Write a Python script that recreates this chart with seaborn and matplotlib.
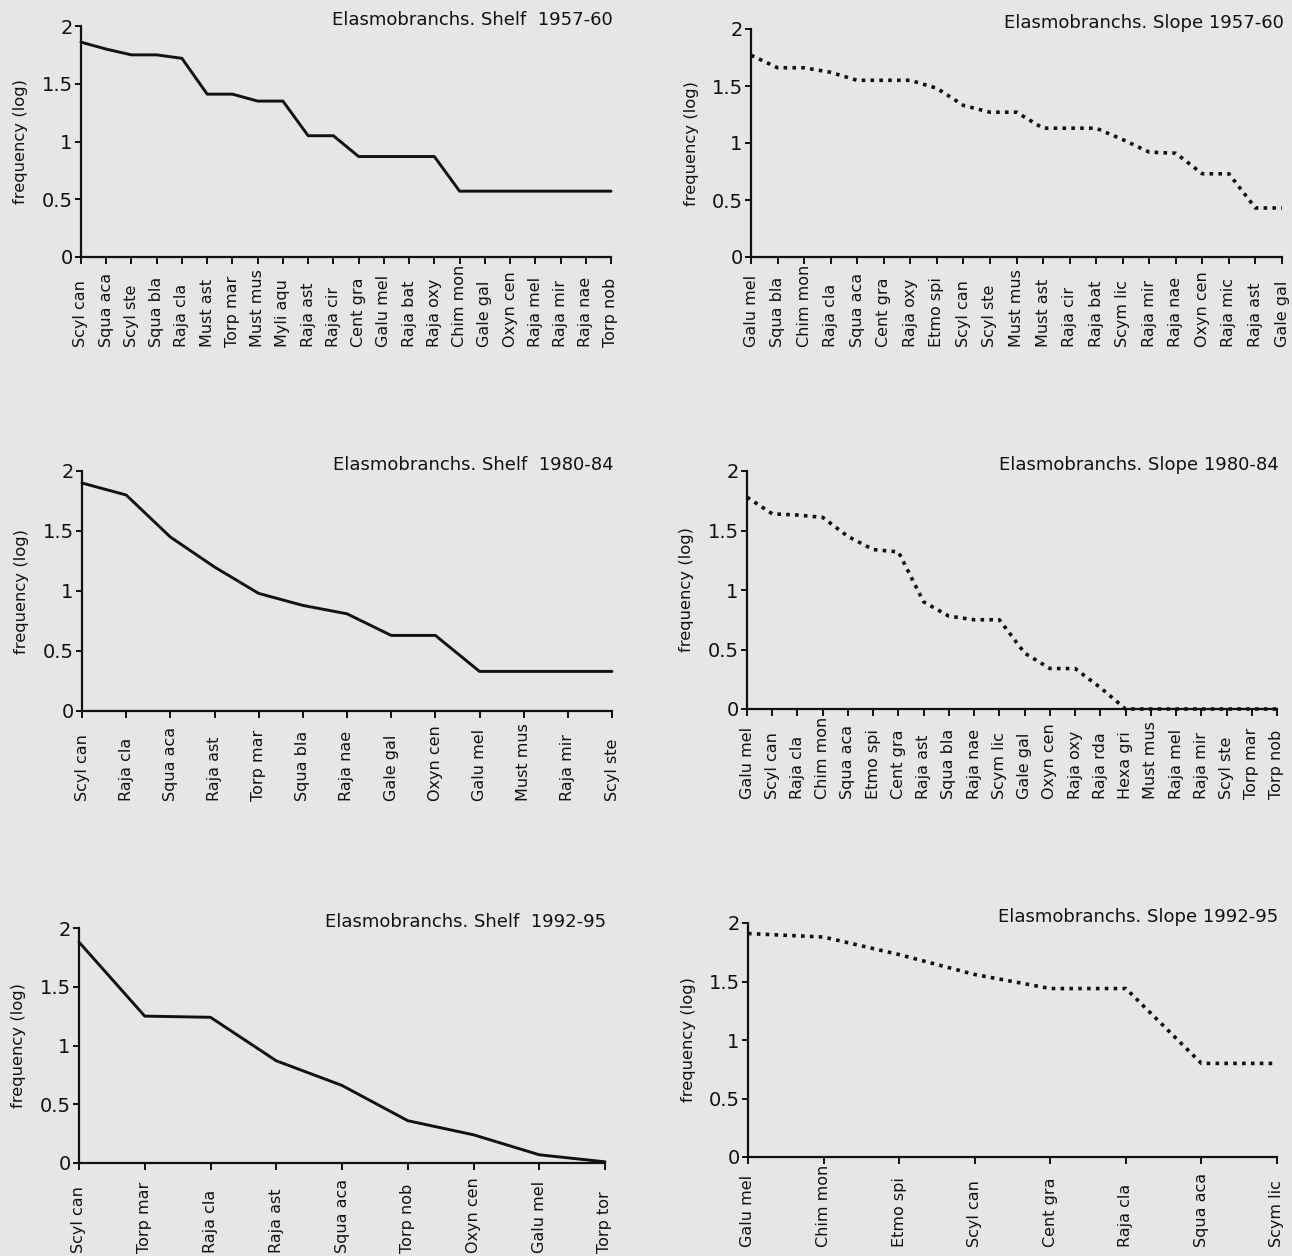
import numpy as np
import pandas as pd
import matplotlib
matplotlib.use("Agg")
import matplotlib.pyplot as plt
import seaborn as sns

sns.set_theme(style="white")
plt.rcParams['font.family'] = ['DejaVu Sans']

BG = '#e6e6e6'
INK = '#111111'

# ---------------- data ----------------
shelf_5760_species = ["Scyl can", "Squa aca", "Scyl ste", "Squa bla", "Raja cla", "Must ast",
                      "Torp mar", "Must mus", "Myli aqu", "Raja ast", "Raja cir", "Cent gra",
                      "Galu mel", "Raja bat", "Raja oxy", "Chim mon", "Gale gal", "Oxyn cen",
                      "Raja mel", "Raja mir", "Raja nae", "Torp nob"]
shelf_5760_freq = [1.86, 1.80, 1.75, 1.75, 1.72, 1.41, 1.41, 1.35, 1.35, 1.05, 1.05, 0.87,
                   0.87, 0.87, 0.87, 0.57, 0.57, 0.57, 0.57, 0.57, 0.57, 0.57]

slope_5760_species = ["Galu mel", "Squa bla", "Chim mon", "Raja cla", "Squa aca", "Cent gra",
                      "Raja oxy", "Etmo spi", "Scyl can", "Scyl ste", "Must mus", "Must ast",
                      "Raja cir", "Raja bat", "Scym lic", "Raja mir", "Raja nae", "Oxyn cen",
                      "Raja mic", "Raja ast", "Gale gal"]
slope_5760_freq = [1.77, 1.66, 1.66, 1.62, 1.55, 1.55, 1.55, 1.48, 1.33, 1.27, 1.27, 1.13,
                   1.13, 1.13, 1.03, 0.92, 0.91, 0.73, 0.73, 0.43, 0.43]

shelf_8084_species = ["Scyl can", "Raja cla", "Squa aca", "Raja ast", "Torp mar", "Squa bla",
                      "Raja nae", "Gale gal", "Oxyn cen", "Galu mel", "Must mus", "Raja mir",
                      "Scyl ste"]
shelf_8084_freq = [1.90, 1.80, 1.45, 1.20, 0.98, 0.88, 0.81, 0.63, 0.63, 0.33, 0.33, 0.33, 0.33]

slope_8084_species = ["Galu mel", "Scyl can", "Raja cla", "Chim mon", "Squa aca", "Etmo spi",
                      "Cent gra", "Raja ast", "Squa bla", "Raja nae", "Scym lic", "Gale gal",
                      "Oxyn cen", "Raja oxy", "Raja rda", "Hexa gri", "Must mus", "Raja mel",
                      "Raja mir", "Scyl ste", "Torp mar", "Torp nob"]
slope_8084_freq = [1.78, 1.64, 1.63, 1.61, 1.45, 1.34, 1.32, 0.90, 0.78, 0.75, 0.75, 0.47,
                   0.34, 0.34, 0.18, 0.0, 0.0, 0.0, 0.0, 0.0, 0.0, 0.0]

shelf_9295_species = ["Scyl can", "Torp mar", "Raja cla", "Raja ast", "Squa aca", "Torp nob",
                      "Oxyn cen", "Galu mel", "Torp tor"]
shelf_9295_freq = [1.88, 1.25, 1.24, 0.87, 0.66, 0.36, 0.24, 0.07, 0.01]

slope_9295_species = ["Galu mel", "Chim mon", "Etmo spi", "Scyl can", "Cent gra", "Raja cla",
                      "Squa aca", "Scym lic"]
slope_9295_freq = [1.91, 1.88, 1.73, 1.56, 1.44, 1.44, 0.80, 0.80]

titles = ["Elasmobranchs. Shelf  1957-60", "Elasmobranchs. Slope 1957-60",
          "Elasmobranchs. Shelf  1980-84", "Elasmobranchs. Slope 1980-84",
          "Elasmobranchs. Shelf  1992-95", "Elasmobranchs. Slope 1992-95"]

y_ticks = [0, 0.5, 1, 1.5, 2]
y_ticklabels = ["0", "0.5", "1", "1.5", "2"]

# ---------------- layout (pixel boxes: left, top, right, bottom) ----------------
W, H = 1292, 1256
boxes = [(81, 26, 611, 257), (751, 29, 1282, 257),
         (82, 471, 612, 711), (747, 471, 1277, 709),
         (79, 928, 605, 1163), (748, 923, 1277, 1157)]

panels = [(shelf_5760_species, shelf_5760_freq, False),
          (slope_5760_species, slope_5760_freq, True),
          (shelf_8084_species, shelf_8084_freq, False),
          (slope_8084_species, slope_8084_freq, True),
          (shelf_9295_species, shelf_9295_freq, False),
          (slope_9295_species, slope_9295_freq, True)]

fig = plt.figure(figsize=(W / 100, H / 100), dpi=100, facecolor=BG)

for (species, freq, dotted), (l, t, r, b), title in zip(panels, boxes, titles):
    ax = fig.add_axes([l / W, 1 - b / H, (r - l) / W, (b - t) / H])
    ax.set_facecolor(BG)
    df = pd.DataFrame({"rank": np.arange(len(species)), "freq": freq, "species": species})
    sns.lineplot(data=df, x="rank", y="freq", sort=False, ax=ax, color=INK,
                 linewidth=2.6 if dotted else 2.1, clip_on=False)
    line = ax.lines[-1]
    if dotted:
        line.set_linestyle((0, (1.0, 1.45)))
        line.set_dash_capstyle('butt')
    ax.set_xlim(0, len(species) - 1)
    ax.set_ylim(0, 2)
    ax.set_xticks(np.arange(len(species)))
    ax.set_xticklabels(species)
    ax.set_yticks(y_ticks)
    ax.set_yticklabels(y_ticklabels)
    for sp in ["top", "right"]:
        ax.spines[sp].set_visible(False)
    for sp in ["left", "bottom"]:
        ax.spines[sp].set_color(INK)
        ax.spines[sp].set_linewidth(1.6)
    ax.tick_params(axis="x", direction="out", length=5, width=1.4, color=INK,
                   labelsize=11.5, labelcolor=INK, pad=60, bottom=True)
    ax.tick_params(axis="y", direction="out", length=4, width=1.4, color=INK,
                   labelsize=14, labelcolor=INK, pad=2, left=True)
    for lbl in ax.get_xticklabels():
        lbl.set_rotation(90)
        lbl.set_rotation_mode("anchor")
        lbl.set_ha("left")
        lbl.set_va("center")
    ax.set_xlabel("")
    ax.set_ylabel("frequency (log)", fontsize=11.8, color=INK)
    ax.yaxis.label.set_va("center")
    ax.yaxis.set_label_coords(-60 / (r - l), 0.5)
    ax.annotate(title, xy=(1.0, 1.0), xycoords="axes fraction", xytext=(1, 1),
                textcoords="offset points", ha="right", va="baseline",
                fontsize=13, color=INK)

fig.savefig("out.png", dpi=100, facecolor=BG)
